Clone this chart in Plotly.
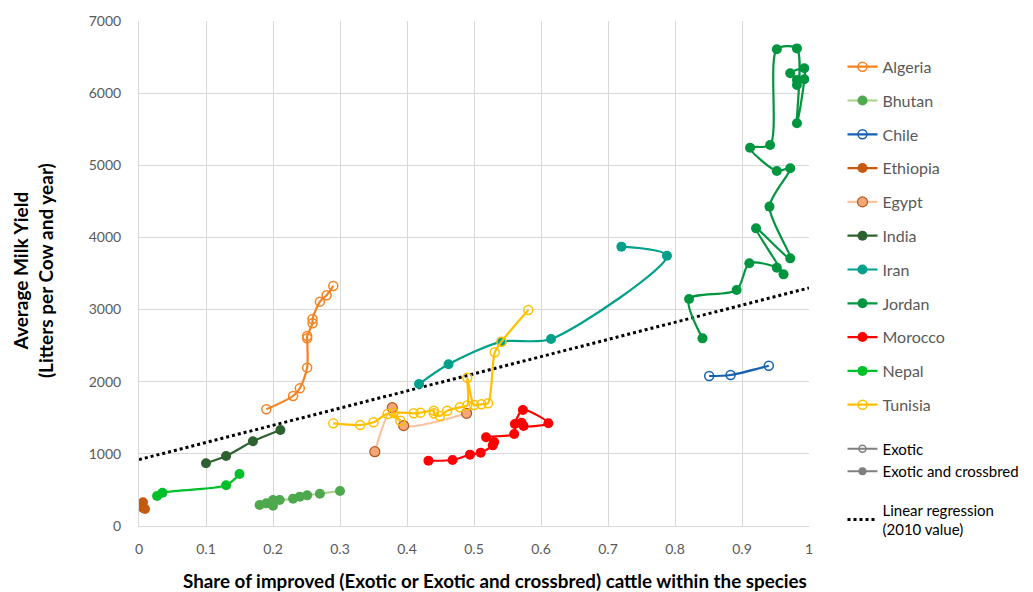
import plotly.graph_objects as go

# ---------------- data ----------------
algeria_x = [0.190, 0.230, 0.240, 0.251, 0.251, 0.251, 0.259, 0.259, 0.270, 0.280, 0.290]
algeria_y = [1618, 1802, 1908, 2195, 2602, 2634, 2810, 2869, 3110, 3198, 3327]

bhutan_x = [0.180, 0.190, 0.200, 0.200, 0.210, 0.230, 0.240, 0.251, 0.270, 0.300]
bhutan_y = [291, 314, 281, 360, 360, 379, 407, 425, 448, 485]

chile_x = [0.851, 0.883, 0.940]
chile_y = [2079, 2093, 2222]

ethiopia_x = [0.006, 0.006, 0.009]
ethiopia_y = [330, 250, 235]

egypt_x = [0.352, 0.378, 0.395, 0.489]
egypt_y = [1030, 1640, 1391, 1562]

india_x = [0.100, 0.130, 0.170, 0.211]
india_y = [869, 970, 1174, 1331]

iran_x = [0.418, 0.462, 0.541, 0.615, 0.788, 0.720]
iran_y = [1968, 2241, 2555, 2592, 3747, 3872]

jordan_x = [0.841, 0.821, 0.892, 0.911, 0.952, 0.962, 0.921, 0.972, 0.941, 0.972,
            0.952, 0.912, 0.942, 0.952, 0.982, 0.982, 0.993, 0.993, 0.972, 0.982, 0.982]
jordan_y = [2601, 3147, 3271, 3642, 3581, 3488, 4126, 3710, 4427, 4958,
            4921, 5244, 5281, 6608, 6620, 5583, 6192, 6344, 6275, 6182, 6113]

morocco_x = [0.432, 0.468, 0.494, 0.510, 0.528, 0.530, 0.518, 0.560, 0.561, 0.573, 0.611, 0.574, 0.571]
morocco_y = [905, 915, 989, 1017, 1118, 1164, 1230, 1275, 1414, 1608, 1424, 1386, 1432]

nepal_x = [0.027, 0.035, 0.130, 0.150]
nepal_y = [415, 462, 564, 720]

tunisia_x = [0.290, 0.330, 0.350, 0.371, 0.390, 0.380, 0.410, 0.420, 0.440, 0.440, 0.449,
             0.460, 0.479, 0.490, 0.490, 0.500, 0.511, 0.521, 0.531, 0.541, 0.581]
tunisia_y = [1423, 1400, 1437, 1553, 1460, 1565, 1562, 1571, 1598, 1562, 1525,
             1598, 1645, 1673, 2056, 1677, 1687, 1701, 2408, 2555, 2994]

reg_x = [0.0, 1.0]
reg_y = [920, 3300]

x_ticks = [0, 0.1, 0.2, 0.3, 0.4, 0.5, 0.6, 0.7, 0.8, 0.9, 1]
x_tick_labels = ["0", "0.1", "0.2", "0.3", "0.4", "0.5", "0.6", "0.7", "0.8", "0.9", "1"]
y_ticks = [0, 1000, 2000, 3000, 4000, 5000, 6000, 7000]

FONT = "Lato"
GRAY_TXT = "#595959"

fig = go.Figure()

# (name, x, y, line colour, marker colour, open?, marker outline)
series = [
    ("Algeria", algeria_x, algeria_y, "#F58220", "#F58220", True, None),
    ("Bhutan", bhutan_x, bhutan_y, "#A9D18E", "#4EA84E", False, None),
    ("Chile", chile_x, chile_y, "#1560B0", "#1560B0", True, None),
    ("Ethiopia", ethiopia_x, ethiopia_y, "#C55A11", "#C55A11", False, None),
    ("Egypt", egypt_x, egypt_y, "#F8C3A0", "#F4A875", False, "#B4561C"),
    ("India", india_x, india_y, "#2E6130", "#2E6130", False, None),
    ("Iran", iran_x, iran_y, "#00A08B", "#00A08B", False, None),
    ("Jordan", jordan_x, jordan_y, "#00963F", "#00963F", False, None),
    ("Morocco", morocco_x, morocco_y, "#FF0000", "#FF0000", False, None),
    ("Nepal", nepal_x, nepal_y, "#00C02A", "#00C02A", False, None),
    ("Tunisia", tunisia_x, tunisia_y, "#FFC000", "#FFC000", True, None),
]

# regression first so it sits behind
fig.add_trace(go.Scatter(
    x=reg_x, y=reg_y, mode="lines", name="Linear regression<br>(2010 value)",
    line=dict(color="black", width=3, dash="dot"),
    legend="legend2", legendgroup="reg", legendrank=3,
))

for i, (name, xs, ys, lc, mc, is_open, outline) in enumerate(series):
    if is_open:
        marker = dict(symbol="circle-open", size=9, color=mc, line=dict(width=1.5, color=mc))
    else:
        marker = dict(symbol="circle", size=10, color=mc,
                      line=dict(width=1.2 if outline else 0, color=outline or mc))
    fig.add_trace(go.Scatter(
        x=xs, y=ys, mode="lines+markers", name=name,
        line=dict(color=lc, width=2.2, shape="spline", smoothing=0.8),
        marker=marker, legendgroup=name, legendrank=i + 1,
    ))

# legend-only helper entries
fig.add_trace(go.Scatter(
    x=[None], y=[None], mode="lines+markers", name="Exotic",
    line=dict(color="#7F7F7F", width=2),
    marker=dict(symbol="circle-open", size=7, color="#7F7F7F", line=dict(width=1.5)),
    legend="legend2", legendgroup="ex", legendrank=1,
))
fig.add_trace(go.Scatter(
    x=[None], y=[None], mode="lines+markers", name="Exotic and crossbred",
    line=dict(color="#7F7F7F", width=2),
    marker=dict(symbol="circle", size=8, color="#7F7F7F"),
    legend="legend2", legendgroup="ex", legendrank=2,
))

# page body has an 8px margin, so the figure is sized to fit inside it
fig.update_layout(
    width=1025, height=584,
    margin=dict(l=131, r=224, t=13, b=66, autoexpand=False),
    paper_bgcolor="white", plot_bgcolor="white",
    font=dict(family=FONT, size=14, color=GRAY_TXT),
    showlegend=True,
    legend=dict(
        x=1.05, xanchor="left", y=0.943, yanchor="top",
        font=dict(family=FONT, size=16, color=GRAY_TXT),
        itemwidth=30, tracegroupgap=10, traceorder="grouped",
        bgcolor="rgba(0,0,0,0)",
    ),
    legend2=dict(
        x=1.05, xanchor="left", y=0.185, yanchor="top",
        font=dict(family=FONT, size=15, color="black"),
        itemwidth=30, tracegroupgap=16, traceorder="grouped",
        bgcolor="rgba(0,0,0,0)",
    ),
    xaxis=dict(
        range=[0, 1], tickvals=x_ticks, ticktext=x_tick_labels,
        showgrid=True, gridcolor="#D9D9D9", gridwidth=1,
        showline=True, linecolor="#D9D9D9", linewidth=1,
        zeroline=False, ticks="", tickfont=dict(size=14, color=GRAY_TXT),
        ticklabelstandoff=10,
    ),
    yaxis=dict(
        range=[0, 7000], tickvals=y_ticks,
        showgrid=True, gridcolor="#D9D9D9", gridwidth=1,
        showline=True, linecolor="#D9D9D9", linewidth=1,
        zeroline=False, ticks="", tickfont=dict(size=14, color=GRAY_TXT),
        ticklabelstandoff=14,
    ),
    annotations=[
        dict(text="<b>Share of improved (Exotic or Exotic and crossbred) cattle within the species</b>",
             xref="paper", yref="paper", x=0.532, y=-0.107, xanchor="center", yanchor="middle",
             showarrow=False, font=dict(family=FONT, size=18.8, color="black")),
        dict(text="<b>Average Milk Yield<br>(Litters per Cow and year)</b>",
             xref="paper", yref="paper", x=-0.158, y=0.505, xanchor="center", yanchor="middle",
             textangle=-90, showarrow=False, font=dict(family=FONT, size=19, color="black")),
    ],
)

fig.write_html("out.html")
